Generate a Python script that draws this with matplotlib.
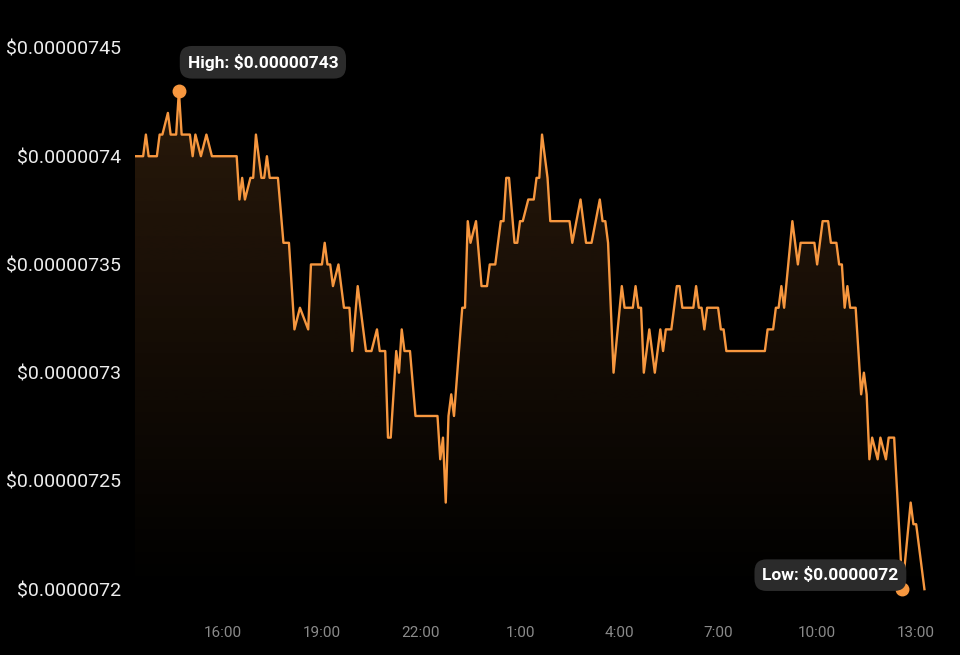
import numpy as np
import pandas as pd
import matplotlib
matplotlib.use('Agg')
import matplotlib.pyplot as plt
import matplotlib.dates as mdates

plt.rcParams['font.family'] = ['Roboto', 'DejaVu Sans']

# Precio en unidades de 1e-8 USD, minutos desde las 13:20
minutes = [0, 15, 20, 25, 40, 45, 50, 60, 65, 75, 80, 85, 100, 105, 110, 120, 130, 140,
           185, 190, 195, 200, 210, 215, 220, 230, 235, 240, 245, 260, 270, 280, 290, 300,
           315, 320, 340, 345, 350, 355, 360, 370, 380, 390, 395, 405, 420, 430, 440, 445,
           455, 460, 465, 475, 480, 485, 490, 500, 510, 550, 555, 560, 565, 570, 575, 580,
           595, 600, 605, 610, 620, 630, 640, 645, 655, 665, 670, 675, 680, 690, 695, 700,
           705, 715, 725, 730, 735, 740, 750, 755, 790, 795, 810, 820, 830, 845, 850, 855,
           860, 870, 885, 890, 905, 910, 915, 920, 925, 935, 945, 955, 960, 965, 975, 985,
           990, 995, 1015, 1020, 1025, 1030, 1035, 1040, 1060, 1065, 1070, 1075, 1145, 1150,
           1160, 1165, 1170, 1175, 1180, 1195, 1205, 1210, 1235, 1240, 1250, 1260, 1265, 1275,
           1280, 1285, 1290, 1295, 1300, 1310, 1320, 1325, 1330, 1335, 1340, 1350, 1355, 1365,
           1370, 1380, 1395, 1410, 1415, 1420, 1435]
price_e8 = [740, 740, 741, 740, 740, 741, 741, 742, 741, 741, 743, 741, 741, 740, 741, 740, 741, 740,
            740, 738, 739, 738, 739, 739, 741, 739, 739, 740, 739, 739, 736, 736, 732, 733,
            732, 735, 735, 736, 735, 735, 734, 735, 733, 733, 731, 734, 731, 731, 732, 731,
            731, 727, 727, 731, 730, 732, 731, 731, 728, 728, 726, 727, 724, 728, 729, 728,
            733, 733, 737, 736, 737, 734, 734, 735, 735, 737, 737, 739, 739, 736, 736, 737,
            737, 738, 738, 739, 739, 741, 739, 737, 737, 736, 738, 736, 736, 738, 737, 737,
            736, 730, 734, 733, 733, 734, 733, 733, 730, 732, 730, 732, 731, 732, 732, 734,
            734, 733, 733, 734, 733, 733, 732, 733, 733, 732, 732, 731, 731, 732,
            732, 733, 733, 734, 733, 737, 735, 736, 736, 735, 737, 737, 736, 736,
            735, 735, 733, 734, 733, 733, 729, 730, 729, 726, 727, 726, 727, 726,
            727, 727, 720, 724, 723, 723, 720]

ytick_vals = [7.20e-6, 7.25e-6, 7.30e-6, 7.35e-6, 7.40e-6, 7.45e-6]
ytick_labels = ['\\$0.0000072', '\\$0.00000725', '\\$0.0000073', '\\$0.00000735',
                '\\$0.0000074', '\\$0.00000745']
start = pd.Timestamp('2024-05-01 13:20')
end_minutes = 1455

orange = '#f7973f'

times = start + pd.to_timedelta(minutes, unit='m')
x = mdates.date2num(times)
prices = np.array(price_e8) * 1e-8
ymin, ymax = 7.195e-6, 7.45e-6

fig = plt.figure(figsize=(9.6, 6.55), dpi=100, facecolor='black')
ax = fig.add_axes([0.1405, 0.084, 0.8339, 0.84275])
ax.set_facecolor('black')

# Relleno con degradado
poly = ax.fill_between(x, prices, ymin, color='none', lw=0)
grad = np.zeros((256, 1, 4))
grad[..., :3] = matplotlib.colors.to_rgb(orange)
grad[:, 0, 3] = np.linspace(0.17, 0.0, 256)
im = ax.imshow(grad, aspect='auto', origin='upper', zorder=2,
               extent=[x[0], x[-1], ymin, prices.max()])
im.set_clip_path(poly.get_paths()[0], ax.transData)

ax.plot(x, prices, color=orange, lw=1.7, zorder=3, solid_joinstyle='round')

# Maximo y minimo
i_hi = int(np.argmax(prices))
i_lo = int(np.argmin(prices))
ax.plot(x[i_hi], prices[i_hi], 'o', color=orange, ms=9, zorder=4, clip_on=False)
ax.plot(x[i_lo], prices[i_lo], 'o', color=orange, ms=9, zorder=4, clip_on=False)

box = dict(boxstyle='round,pad=0.45,rounding_size=0.7', fc='#2b2b2b', ec='none')
ax.annotate('High: \\$0.00000743', xy=(x[i_hi], prices[i_hi]), xytext=(84, 29),
            textcoords='offset pixels', ha='center', va='center', color='white',
            fontsize=12.5, fontweight='bold', bbox=box, zorder=6, annotation_clip=False)
ax.annotate('Low: \\$0.0000072', xy=(x[i_lo], prices[i_lo]), xytext=(-72, 14),
            textcoords='offset pixels', ha='center', va='center', color='white',
            fontsize=12.5, fontweight='bold', bbox=box, zorder=6, annotation_clip=False)

ax.set_xlim(x[0], mdates.date2num(start + pd.Timedelta(minutes=end_minutes)))
ax.set_ylim(ymin, ymax)

ax.set_yticks(ytick_vals)
ax.set_yticklabels(ytick_labels)
ax.xaxis.set_major_locator(mdates.HourLocator(byhour=[1, 4, 7, 10, 13, 16, 19, 22]))
ax.xaxis.set_major_formatter(plt.FuncFormatter(lambda v, _: f"{mdates.num2date(v).hour}:00"))

ax.tick_params(axis='y', length=0, pad=10, labelsize=14, labelcolor='#ececec')
ax.tick_params(axis='x', length=0, pad=19, labelsize=11, labelcolor='#8a8a8a')
for s in ax.spines.values():
    s.set_visible(False)

fig.savefig('out.png', dpi=100, facecolor='black')
